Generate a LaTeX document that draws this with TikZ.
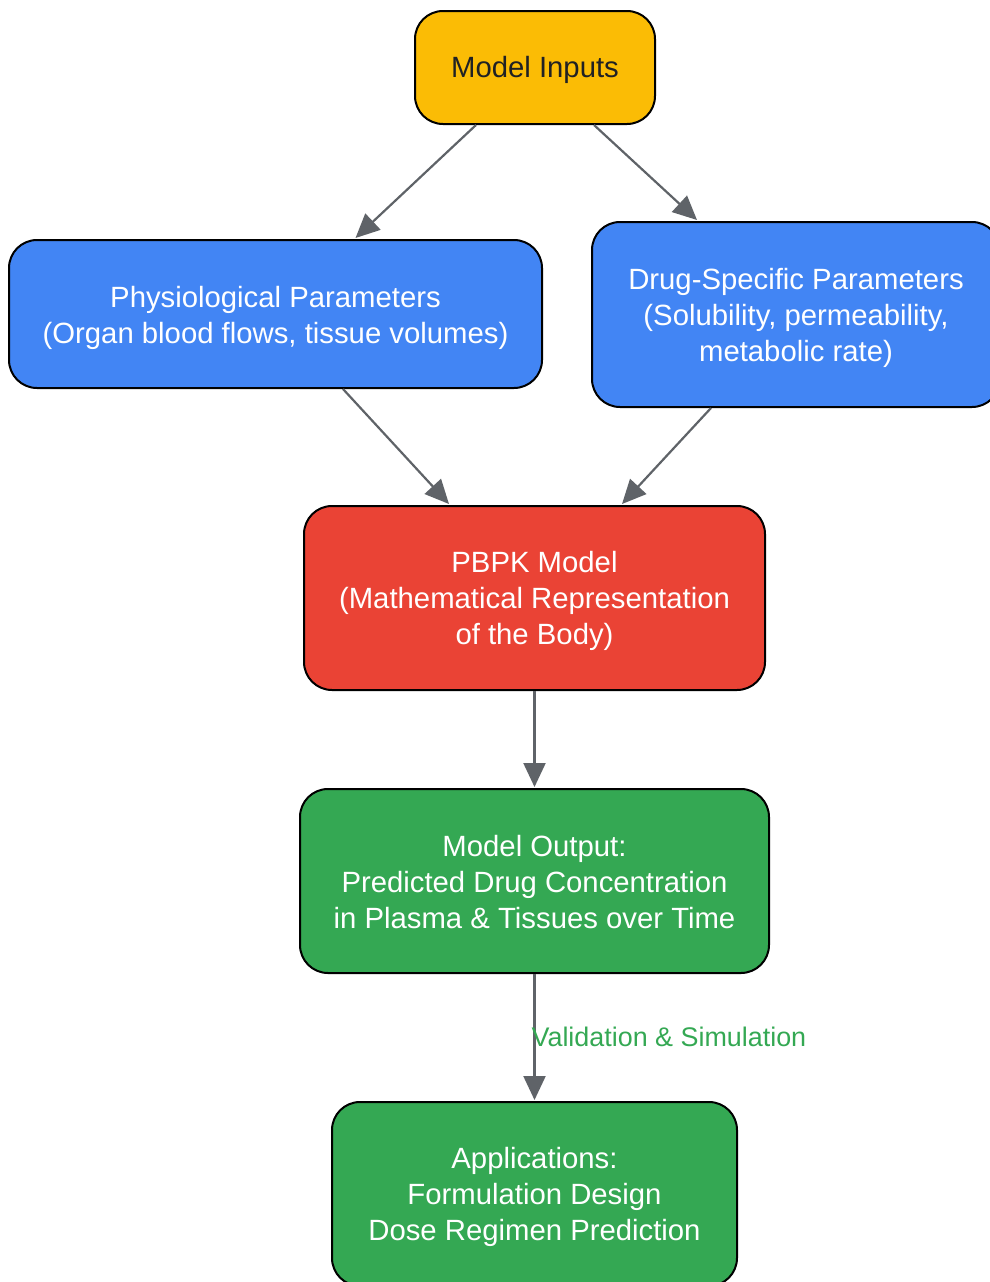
\documentclass[tikz,border=0pt]{standalone}
\usepackage{fontspec}
\setmainfont{Liberation Sans}
\usetikzlibrary{arrows.meta,calc}
\definecolor{cyellow}{HTML}{FBBC05}
\definecolor{cblue}{HTML}{4285F4}
\definecolor{cred}{HTML}{EA4335}
\definecolor{cgreen}{HTML}{34A853}
\definecolor{cgray}{HTML}{5F6368}
\definecolor{ctext}{HTML}{202124}
\newcommand{\topstrut}[1]{\rule{0pt}{#1}}
\tikzset{
  box/.style={draw=black, line width=2pt, rounded corners=28pt, align=center,
    font=\fontsize{29.3}{36}\selectfont, text=white, inner sep=0pt},
  conn/.style={draw=cgray, line width=2.2pt, -{Triangle[length=24pt,width=22pt]}},
  lbl/.style={text=cgreen, font=\fontsize{26.9}{30}\selectfont, inner sep=0pt}
}
\begin{document}
\begin{tikzpicture}[x=1pt,y=-1pt]
\useasboundingbox (0,0) rectangle (990,1282);
\node[box, fill=cyellow, text=ctext, minimum width=240pt, minimum height=113pt] (inputs) at (535,67.5) {\topstrut{26.5pt}Model Inputs};
\node[box, fill=cblue, minimum width=533pt, minimum height=148pt] (phys) at (275.5,314) {\topstrut{29pt}Physiological Parameters\\(Organ blood flows, tissue volumes)};
\node[box, fill=cblue, minimum width=408pt, minimum height=185pt] (drug) at (796,314.5) {\topstrut{29pt}Drug-Specific Parameters\\(Solubility, permeability,\\metabolic rate)};
\node[box, fill=cred, minimum width=461pt, minimum height=184pt] (pbpk) at (534.5,598) {\topstrut{28pt}PBPK Model\\(Mathematical Representation\\of the Body)};
\node[box, fill=cgreen, minimum width=469pt, minimum height=184pt] (output) at (534.5,881) {\topstrut{24pt}Model Output:\\Predicted Drug Concentration\\in Plasma \& Tissues over Time};
\node[box, fill=cgreen, minimum width=405pt, minimum height=184pt] (apps) at (534.5,1194) {\topstrut{28pt}Applications:\\Formulation Design\\Dose Regimen Prediction};
\draw[conn] ($(inputs.south)+(-59,0)$) -- ($(phys.north)+(80,-1)$);
\draw[conn] ($(inputs.south)+(59,0)$) -- ($(drug.north)+(-99,-1)$);
\draw[conn] ($(phys.south)+(67.5,0)$) -- ($(pbpk.north)+(-85.5,-1)$);
\draw[conn] ($(drug.south)+(-85,0)$) -- ($(pbpk.north)+(87.5,-1)$);
\draw[conn] (pbpk.south) -- ($(output.north)+(0,-1)$);
\draw[conn] (output.south) -- node[lbl, pos=0.5, anchor=west, xshift=-4pt] (vlabel) {Validation \& Simulation} ($(apps.north)+(0,-1)$);
\end{tikzpicture}
\end{document}
